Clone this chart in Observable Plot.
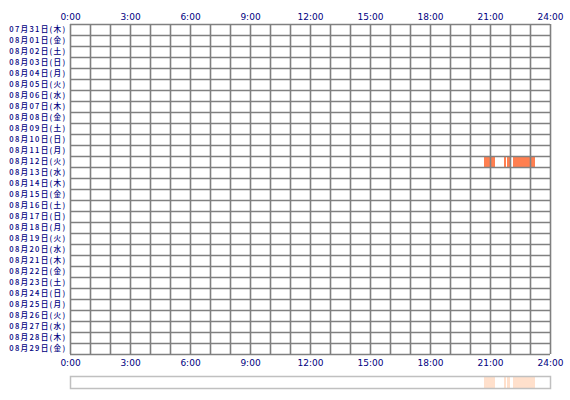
<!DOCTYPE html>
<html><head><meta charset="utf-8">
<script src="https://cdn.jsdelivr.net/npm/d3@7"></script>
<script src="https://cdn.jsdelivr.net/npm/@observablehq/plot@0.6"></script>
<style>body{margin:0;background:#fff}svg{display:block}.ylab text{letter-spacing:1.3px}</style>
</head><body><div id="c"></div>
<script>
const dates = ["07月31日(木)","08月01日(金)","08月02日(土)","08月03日(日)","08月04日(月)","08月05日(火)","08月06日(水)","08月07日(木)","08月08日(金)","08月09日(土)","08月10日(日)","08月11日(月)","08月12日(火)","08月13日(水)","08月14日(木)","08月15日(金)","08月16日(土)","08月17日(日)","08月18日(月)","08月19日(火)","08月20日(水)","08月21日(木)","08月22日(金)","08月23日(土)","08月24日(日)","08月25日(月)","08月26日(火)","08月27日(水)","08月28日(木)","08月29日(金)"];
const hourTicks = [0,3,6,9,12,15,18,21,24];
const gridHours = d3.range(0,25);
const activeDay = "08月12日(火)";
const starts = ["20:42","21:42","21:51","22:09"];
const ends   = ["21:15","21:48","22:00","23:15"];

const toH = s => { const [h,m] = s.split(":").map(Number); return h + m/60; };
const rows = dates.map((d,i)=>({d,i}));
const dayIdx = dates.indexOf(activeDay);
const segs = starts.map((s,k)=>({x1:toH(s), x2:toH(ends[k]), i:dayIdx}));
const grey = "#808080", navy = "#000080";

const p1 = Plot.plot({
  width:570, height:372, marginTop:24, marginBottom:18, marginLeft:70, marginRight:20,
  style:{fontFamily:"DejaVu Sans", fontSize:"9px", color:navy, background:"#fff"},
  x:{domain:[0,24], ticks:hourTicks, tickFormat:h=>h+":00", axis:"both", tickSize:0, tickPadding:5, label:null},
  y:{domain:[0,dates.length], reverse:true, axis:null},
  marks:[
    Plot.rect(segs, {x1:"x1", x2:"x2", y1:d=>d.i, y2:d=>d.i+1, fill:"#ff7f50"}),
    Plot.ruleX(gridHours, {stroke:grey, strokeWidth:1.6}),
    Plot.ruleY(d3.range(0,dates.length+1), {stroke:grey, strokeWidth:1.6}),
    Plot.text(rows, {x:()=>0, y:d=>d.i+0.5, text:"d", textAnchor:"end", dx:-4, fill:navy, fontSize:7.6, fontWeight:500, fontFamily:"Noto Sans CJK JP", className:"ylab"})
  ]
});

const p2 = Plot.plot({
  width:570, height:28, marginTop:4, marginBottom:12, marginLeft:70, marginRight:20,
  style:{background:"#fff"},
  x:{domain:[0,24], axis:null},
  marks:[
    Plot.rect(segs, {x1:"x1", x2:"x2", fill:"#ffe0cc"}),
    Plot.frame({stroke:"#c0c0c0", strokeWidth:1.5})
  ]
});
document.getElementById("c").append(p1, p2);
</script></body></html>
